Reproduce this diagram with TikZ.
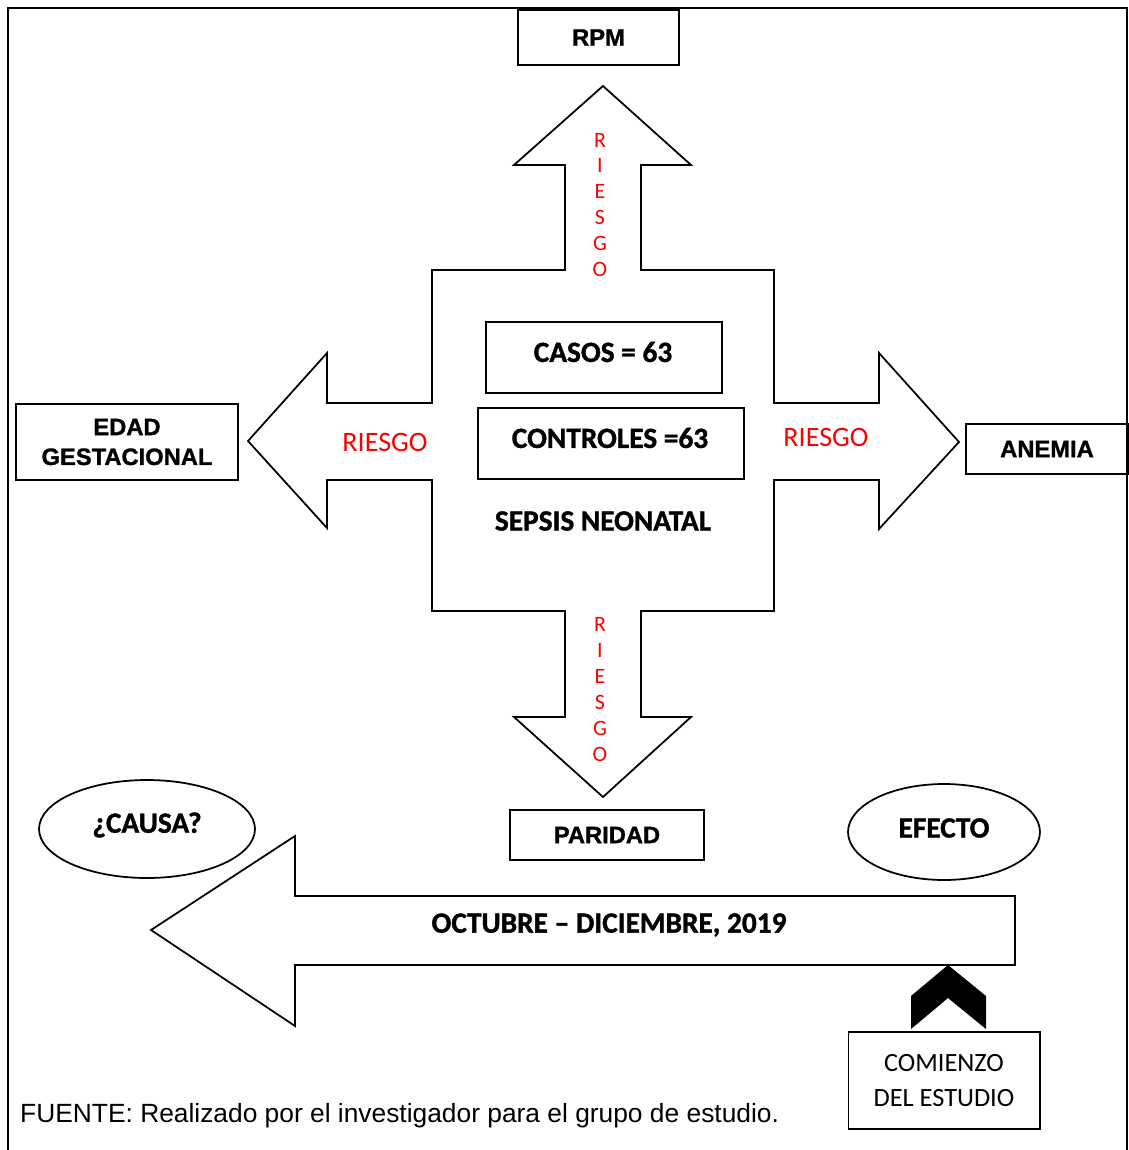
\documentclass[tikz,border=0pt]{standalone}
\usepackage{fontspec}
\setmainfont{Carlito}[BoldFeatures={FakeBold=1.2}]
\newfontfamily\arialfont{Liberation Sans}[BoldFeatures={FakeBold=1.2}]
\usetikzlibrary{shapes.geometric}

\tikzset{
    box/.style={draw, line width=1pt, inner sep=0pt},
    boldtext/.style={font=\fontsize{16.7}{18}\selectfont\bfseries},
    arialbold/.style={font=\arialfont\fontsize{13.5}{17}\selectfont\bfseries},
    risk/.style={text=red, font=\fontsize{16}{18}\selectfont},
    riskletter/.style={text=red, font=\fontsize{12.5}{14}\selectfont},
}

\begin{document}
\begin{tikzpicture}[x=0.02cm, y=-0.02cm]
    \useasboundingbox (0,0) rectangle (1129,1150);

    % Draw frame
    \draw[line width=1.1pt] (8,1150) -- (8,8) -- (1127,8) -- (1127,1150);

    % Draw cross of arrows
    \draw[line width=1pt, line join=miter]
        (603,86) -- (691,165) -- (641,165) -- (641,270) -- (774,270) -- (774,403)
        -- (879,403) -- (879,353) -- (959,442) -- (879,529) -- (879,480) -- (774,480)
        -- (774,611) -- (641,611) -- (641,717) -- (691,717) -- (603,797) -- (514,717)
        -- (565,717) -- (565,611) -- (432,611) -- (432,480) -- (327,480) -- (327,528)
        -- (248,441) -- (327,353) -- (327,403) -- (432,403) -- (432,270) -- (565,270)
        -- (565,165) -- (514,165) -- cycle;

    % Draw time arrow
    \draw[line width=1pt, line join=miter]
        (151,930) -- (295,836) -- (295,896) -- (1015,896) -- (1015,965)
        -- (295,965) -- (295,1026) -- cycle;

    % Draw nodes
    \node[box, arialbold, minimum width=3.22cm, minimum height=1.1cm] (rpm) at (598.5,37.5) {RPM};
    \node[box, minimum width=4.72cm, minimum height=1.42cm] (casos) at (604,357.5) {};
    \node[boldtext] (casostxt) at (603,352) {CASOS = 63};
    \node[box, minimum width=5.32cm, minimum height=1.42cm] (controles) at (611,443.5) {};
    \node[boldtext] (controlestxt) at (610,438) {CONTROLES =63};
    \node[boldtext] (sepsis) at (603,521) {SEPSIS NEONATAL};
    \node[box, arialbold, minimum width=4.44cm, minimum height=1.52cm, align=center] (edad) at (127,442) {EDAD\\GESTACIONAL};
    \node[box, arialbold, minimum width=3.24cm, minimum height=1.0cm] (anemia) at (1047,449) {ANEMIA};
    \node[box, arialbold, minimum width=3.88cm, minimum height=1.0cm] (paridad) at (607,835) {PARIDAD};
    \node[ellipse, draw, line width=1pt, minimum width=4.32cm, minimum height=1.96cm] (causa) at (147,829) {};
    \node[boldtext] (causatxt) at (147,825) {¿CAUSA?};
    \node[ellipse, draw, line width=1pt, minimum width=3.84cm, minimum height=1.92cm] (efecto) at (944,832) {};
    \node[boldtext] (efectotxt) at (944,828) {EFECTO};
    \node[boldtext] (periodo) at (609,925) {OCTUBRE – DICIEMBRE, 2019};
    \node[draw, line width=0.6pt, minimum width=3.84cm, minimum height=1.94cm, align=center,
          font=\fontsize{15}{20.4}\selectfont] (comienzo) at (944,1080.5) {COMIENZO\\DEL ESTUDIO};

    % Risk labels
    \node[risk] (riesgoizq) at (385,442) {RIESGO};
    \node[risk] (riesgoder) at (826,437) {RIESGO};
    \foreach \l [count=\i from 0] in {R,I,E,S,G,O} {
        \node[riskletter] (riesgoarr\i) at (600,140+25.8*\i) {\l};
        \node[riskletter] (riesgoaba\i) at (600,624+26*\i) {\l};
    }

    % Start marker
    \fill (948,965) -- (986,996) -- (986,1029) -- (948,998) -- (911,1029) -- (911,996) -- cycle;

    % Source note
    \node[anchor=west, font=\arialfont\fontsize{15}{18}\selectfont] (fuente) at (14,1116)
        {FUENTE: Realizado por el investigador para el grupo de estudio.};
\end{tikzpicture}
\end{document}
